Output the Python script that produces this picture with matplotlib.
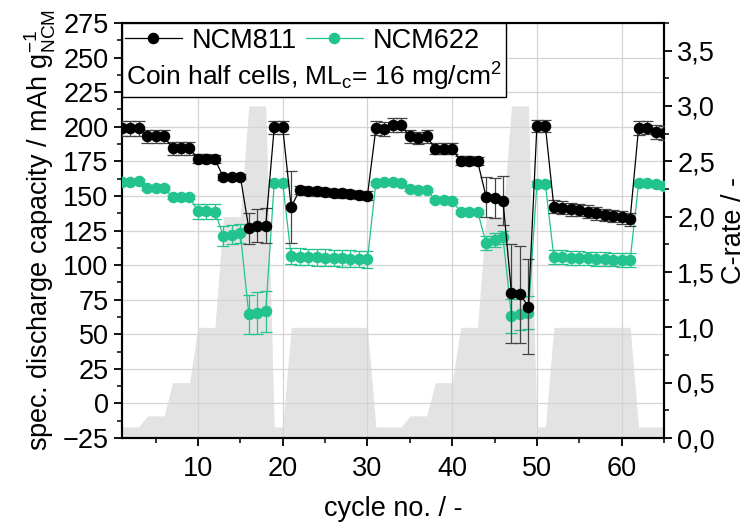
import numpy as np
import matplotlib
matplotlib.use("Agg")
import matplotlib.pyplot as plt
from matplotlib.ticker import MultipleLocator, FuncFormatter
from matplotlib.patches import Rectangle
from matplotlib.lines import Line2D

plt.rcParams['font.family'] = ['Liberation Sans', 'DejaVu Sans']
plt.rcParams['mathtext.fontset'] = 'custom'
plt.rcParams['mathtext.rm'] = 'Liberation Sans'
plt.rcParams['mathtext.it'] = 'Liberation Sans:italic'
plt.rcParams['mathtext.bf'] = 'Liberation Sans:bold'

cycles = np.arange(1, 66)

crate = ([0.1]*3 + [0.2]*3 + [0.5]*3 + [1.0]*3 + [2.0]*3 + [3.0]*3 + [0.1]*2 + [1.0]*10 +
         [0.1]*4 + [0.2]*3 + [0.5]*3 + [1.0]*3 + [2.0]*3 + [3.0]*3 + [0.1]*2 + [1.0]*10 + [0.1]*4)

ncm811 = [199, 199, 199, 193, 193, 193, 184.5, 184.5, 184.5, 177, 177, 176.5,
          163.5, 164, 164, 126.5, 128.5, 128.5, 199.5, 199.5, 142,
          154.3, 153.8, 153.3, 152.8, 152.3, 151.8, 151.3, 150.8, 150.2,
          199, 198.5, 201.5, 201, 193, 192, 193, 184, 184, 184, 175.5, 175.5, 175,
          149.5, 148.3, 146.6, 79.6, 79, 70, 200.5, 200.5,
          142.2, 141.5, 140.3, 139.8, 138.6, 137.4, 136.2, 135.5, 134.5, 133.1,
          199, 199.4, 196, 195.3]
ncm811_err = ([5.5]*3 + [5]*3 + [4.8]*3 + [3]*3 + [2]*3 + [11.5, 12, 12.5] + [5]*2 + [26] +
              [3]*9 + [5]*4 + [4.5]*3 + [4]*3 + [3]*3 + [14.5, 14.5, 17.7] + [36, 35, 34.6] +
              [4.5]*2 + [4.5]*10 + [5]*4)

ncm622 = [160, 160, 160.5, 156, 156, 156, 149, 149, 149, 139, 139, 138.5,
          121, 122, 123, 64.5, 65.5, 66.5, 159.5, 159.5, 106.5,
          106, 105.8, 105.5, 105.3, 105, 104.8, 104.6, 104.4, 104.2,
          159.5, 160, 160, 159.5, 155, 154.5, 154.5, 147, 147, 146.5, 138.5, 138.5, 138.5,
          116.2, 118.2, 120, 63.2, 65, 65.6, 158.7, 158.5,
          106, 105.7, 105.4, 105.1, 104.8, 104.5, 104.2, 104, 103.7, 103.4,
          159, 159, 158.5, 157]
ncm622_err = ([1.5]*9 + [5.5]*3 + [7]*3 + [14, 15, 15] + [2]*2 + [6]*10 +
              [1.5]*13 + [5]*3 + [12]*3 + [2]*2 + [5]*10 + [2]*4)

black = '#000000'
green = '#22c38e'
fs = 19.5

fig = plt.figure(figsize=(7.49, 5.25), dpi=100)
ax = fig.add_axes([0.1625, 0.1657, 0.724, 0.7905])
ax2 = ax.twinx()
ax.set_zorder(ax2.get_zorder() + 1)
ax.patch.set_visible(False)

ax2.fill_between(cycles, 0, crate, color='#e3e3e3', lw=0)
ax2.set_ylim(0, 3.75)
ax2.yaxis.set_major_locator(MultipleLocator(0.5))
ax2.yaxis.set_minor_locator(MultipleLocator(0.25))
ax2.yaxis.set_major_formatter(FuncFormatter(lambda v, p: f"{v:.1f}".replace('.', ',')))
ax2.set_ylabel('C-rate / -', fontsize=fs, labelpad=4)

ax.errorbar(cycles, ncm622, yerr=ncm622_err, color=green, ecolor=green, elinewidth=0.9,
            capsize=4, capthick=0.9, marker='o', markersize=7.3, lw=0.9, zorder=3)
ax.errorbar(cycles, ncm811, yerr=ncm811_err, color=black, ecolor='#444444', elinewidth=0.9,
            capsize=4, capthick=0.9, marker='o', markersize=7.3, lw=0.9, zorder=4)

ax.set_xlim(1, 65)
ax.set_ylim(-25, 275)
ax.xaxis.set_major_locator(MultipleLocator(10))
ax.xaxis.set_minor_locator(MultipleLocator(5))
ax.yaxis.set_major_locator(MultipleLocator(25))
ax.yaxis.set_minor_locator(MultipleLocator(12.5))
ax.grid(True, which='major', color='#d4d4d4', lw=0.9)
ax.set_axisbelow(True)

for a in (ax, ax2):
    for s in a.spines.values():
        s.set_linewidth(1.5)
    a.tick_params(which='major', direction='out', length=6, width=1.3, labelsize=fs)
    a.tick_params(which='minor', direction='out', length=3.5, width=1.1)
ax.tick_params(axis='x', pad=7)

ax.set_xlabel('cycle no. / -', fontsize=fs, labelpad=10)
ax.set_ylabel('spec. discharge capacity / mAh g$^{-1}_{\\mathrm{NCM}}$', fontsize=fs, labelpad=3)

# legend box
box_bot = (438 - 97) / 415
box_w = (506 - 121.7) / 542.3
ax.add_patch(Rectangle((0, box_bot), box_w, 1 - box_bot, transform=ax.transAxes,
                       facecolor='white', edgecolor='black', lw=1.0, zorder=5))
h1 = Line2D([], [], color=black, marker='o', markersize=7.3, lw=0.9)
h2 = Line2D([], [], color=green, marker='o', markersize=7.3, lw=0.9)
leg = ax.legend([h1, h2], ['NCM811', 'NCM622'], ncol=2, loc='upper left',
                bbox_to_anchor=(-0.024, 1.028), frameon=False, fontsize=fs,
                handlelength=2.1, handletextpad=0.35, columnspacing=0.35, borderaxespad=0.2)
leg.set_zorder(6)
ax.text(0.007, (438 - 77) / 415, 'Coin half cells, ML$_\\mathrm{c}$= 16 mg/cm$^2$',
        transform=ax.transAxes, fontsize=19, va='center', ha='left', zorder=6)

fig.savefig('out.png', dpi=100)
